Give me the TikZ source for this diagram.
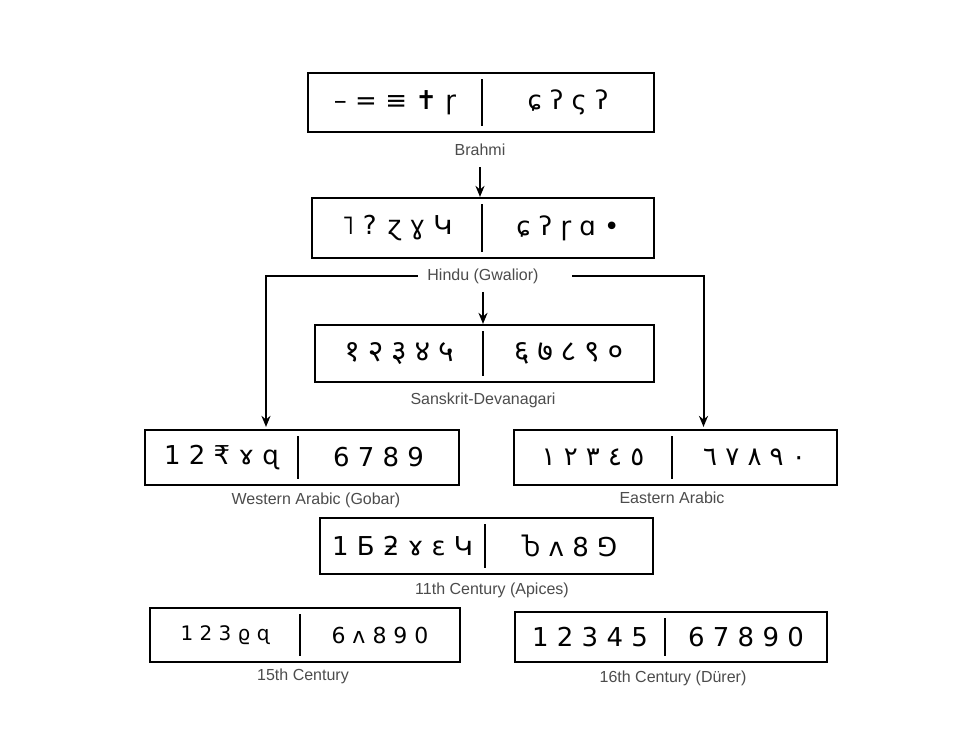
\documentclass[tikz,border=0pt]{standalone}
\usepackage{fontspec}
\setmainfont{Liberation Sans}
\newfontfamily\dvfont[Script=Devanagari]{Noto Sans}
\newfontfamily\arfont[Script=Arabic]{DejaVu Sans}
\newfontfamily\djfont{DejaVu Sans}
\usetikzlibrary{arrows.meta}
\begin{document}
\begin{tikzpicture}[x=1pt,y=-1pt,
  box/.style={draw=black,line width=2.2pt,inner sep=0pt},
  glyph/.style={font=\djfont\fontsize{26}{28}\selectfont,inner sep=0pt},
  lab/.style={font=\fontsize{16}{18}\selectfont,text=black!70},
  arr/.style={line width=2pt,-{Stealth[length=11pt,width=9pt]}}]
\useasboundingbox[fill=white] (0,0) rectangle (980,729);
\newcommand\numbox[8]{%
  \node[box,minimum width={#4-#2},minimum height={#5-#3}] (#1) at ({(#2+#4)/2},{(#3+#5)/2}) {};
  \draw[line width=2pt] (#6,{#3+6}) -- (#6,{#5-6});
  \node[glyph] (#1l) at ({(#2+#6)/2},{(#3+#5)/2}) {#7};
  \node[glyph] (#1r) at ({(#6+#4)/2},{(#3+#5)/2}) {#8};}
\numbox{brahmi}{308}{73}{654}{132}{482}{– = ≡ ✝ ɼ}{ɕ ʔ ς ʔ}
\node[lab] (brahmiL) at (480,150) {Brahmi};
\numbox{hindu}{312}{198}{654}{258}{482}{˥ ? ɀ ɣ Կ}{ɕ ʔ ɼ ɑ •}
\node[lab] (hinduL) at (483,276) {Hindu (Gwalior)};
\numbox{sans}{315}{325}{654}{382}{483}{\dvfont\fontsize{30}{32}\selectfont १ २ ३ ४ ५}{\dvfont\fontsize{30}{32}\selectfont ६ ७ ८ ९ ०}
\node[lab] (sansL) at (483,400) {Sanskrit-Devanagari};
\numbox{west}{145}{430}{459}{485}{298}{1 2 ₹ ɤ ɋ}{6 7 8 9}
\node[lab] (westL) at (316,500) {Western Arabic (Gobar)};
\numbox{east}{514}{430}{837}{485}{672}{\arfont\fontsize{26}{28}\selectfont ١ ٢ ٣ ٤ ٥}{\arfont\fontsize{26}{28}\selectfont ٦ ٧ ٨ ٩ ٠}
\node[lab] (eastL) at (672,498) {Eastern Arabic};
\numbox{apices}{320}{518}{653}{574}{485}{1 Ƃ ƻ ɤ ԑ Կ}{Ⴆ ʌ 8 ⅁}
\node[lab] (apicesL) at (492,590) {11th Century (Apices)};
\numbox{xv}{150}{608}{460}{662}{300}{\fontsize{20}{22}\selectfont 1 2 3 ϱ ɋ}{\fontsize{22}{24}\selectfont 6 ʌ 8 9 0}
\node[lab] (xvL) at (303,676) {15th Century};
\numbox{xvi}{515}{612}{827}{662}{665}{1 2 3 4 5}{6 7 8 9 0}
\node[lab] (xviL) at (673,678) {16th Century (Dürer)};
\draw[arr] ([yshift=-8pt]brahmiL.south) -- (brahmiL.south |- hindu.north);
\draw[arr] ([yshift=-5pt]hinduL.south) -- (hinduL.south |- sans.north);
\draw[arr] ([xshift=-6pt]hinduL.west) -| ([xshift=-36pt,yshift=2pt]west.north);
\draw[arr] ([xshift=30pt]hinduL.east) -| ([xshift=28pt,yshift=2pt]east.north);
\end{tikzpicture}
\end{document}
